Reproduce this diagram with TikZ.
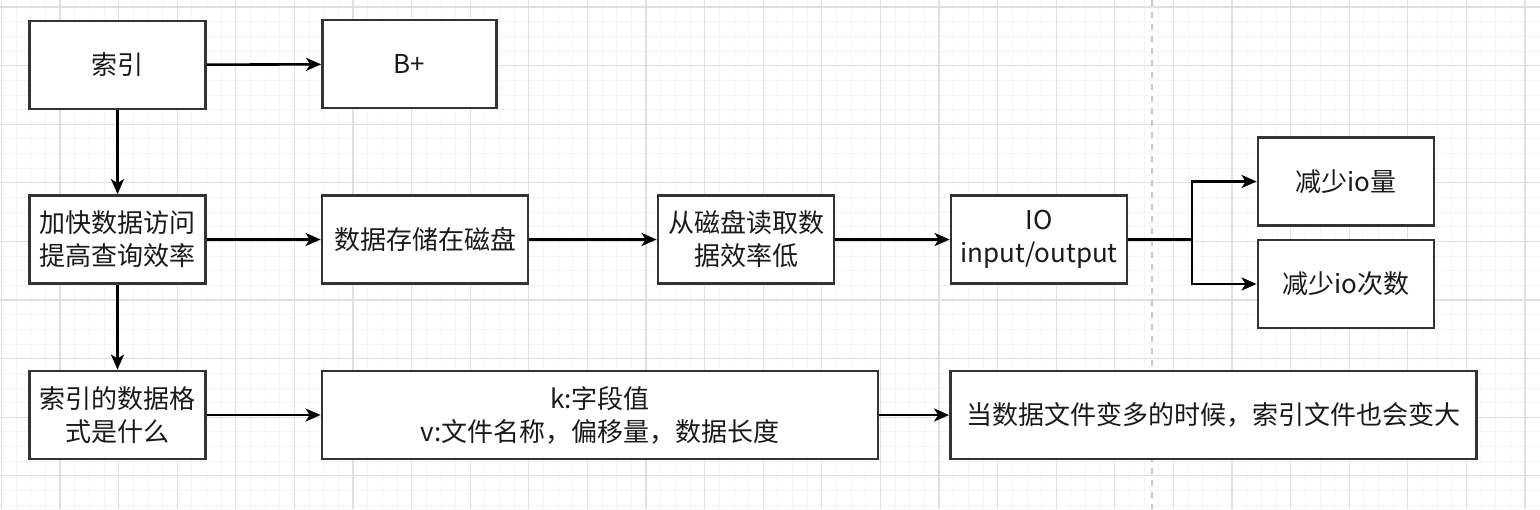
\documentclass[tikz,border=0pt]{standalone}
\usepackage{fontspec}
\setmainfont{Noto Sans CJK SC}
\usetikzlibrary{arrows.meta}
\definecolor{boxline}{HTML}{333333}
\definecolor{txt}{HTML}{1A1A1A}

\begin{document}
\begin{tikzpicture}[x=0.5pt, y=-0.5pt,
    box/.style={draw=boxline, line width=1.4pt, fill=white, text=txt,
      minimum height=44pt, inner sep=2pt, align=center,
      font=\fontsize{13}{16.5}\selectfont},
    arr/.style={line width=1.3pt, -{Stealth[length=7.5pt, width=6.5pt, inset=2pt]}},
    gridminor/.style={draw=black!4, line width=0.4pt},
    gridmajor/.style={draw=black!12, line width=0.6pt}]
        \useasboundingbox (0,0) rectangle (1540,509);
        \fill[white] (0,0) rectangle (1540,509);

        % grade de fundo
        \foreach \k in {0,...,104}
          \draw[gridminor] ({1.4+14.65*\k},0) -- ({1.4+14.65*\k},509);
        \foreach \k in {0,...,34}
          \draw[gridminor] (0,{7+14.65*\k}) -- (1540,{7+14.65*\k});
        \foreach \k in {0,...,26}
          \draw[gridmajor] ({1.4+58.6*\k},0) -- ({1.4+58.6*\k},509);
        \foreach \k in {0,...,8}
          \draw[gridmajor] (0,{7+58.6*\k}) -- (1540,{7+58.6*\k});
        \draw[black!22, dashed, line width=0.6pt] (1152,0) -- (1152,509);

        % primeira linha
        \node[box, minimum width=88pt] (suoyin) at (117.5,65) {索引};
        \node[box, minimum width=87pt] (bplus) at (409.5,64) {B+};

        % segunda linha
        \node[box, minimum width=88pt] (jiakuai) at (117.5,239.5) {加快数据访问\\提高查询效率};
        \node[box, minimum width=103pt] (cunchu) at (425,239.5) {数据存储在磁盘};
        \node[box, minimum width=88pt] (duqu) at (746,239.5) {从磁盘读取数\\据效率低};
        \node[box, minimum width=88pt] (io) at (1039,239.5) {IO\\input/output};
        \node[box, minimum width=88pt] (liang) at (1346,181.5) {减少io量};
        \node[box, minimum width=88pt] (cishu) at (1346,284) {减少io次数};

        % terceira linha
        \node[box, minimum width=88pt] (geshi) at (117.5,415) {索引的数据格\\式是什么};
        \node[box, minimum width=278pt] (kv) at (600,415) {k:字段值\\v:文件名称，偏移量，数据长度};
        \node[box, minimum width=263pt] (dang) at (1213.5,415) {当数据文件变多的时候，索引文件也会变大};

        % setas
        \draw[arr] (suoyin) -- (bplus);
        \draw[arr] (suoyin) -- (jiakuai);
        \draw[arr] (jiakuai) -- (geshi);
        \draw[arr] (jiakuai) -- (cunchu);
        \draw[arr] (cunchu) -- (duqu);
        \draw[arr] (duqu) -- (io);
        \coordinate (fork) at (1192,239.5);
        \draw[line width=1.3pt] (io) -- (fork);
        \draw[arr] (fork) |- (liang);
        \draw[arr] (fork) |- (cishu);
        \draw[arr] (geshi) -- (kv);
        \draw[arr] (kv) -- (dang);
    \end{tikzpicture}
\end{document}
